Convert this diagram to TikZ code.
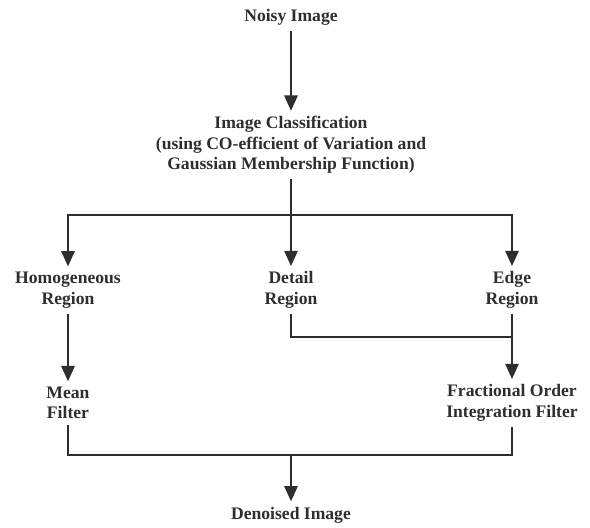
\documentclass[tikz,border=0pt]{standalone}
\usepackage{fontspec}
\setmainfont{Liberation Serif}
\usetikzlibrary{arrows.meta, positioning, calc}

\definecolor{inkgray}{HTML}{2E2E2E}

\begin{document}
\begin{tikzpicture}[>={Triangle[width=10pt,length=11.5pt]}, node distance=1cm, on grid,
    every node/.style={font=\bfseries\fontsize{13.2}{15.4}\selectfont, text=inkgray, align=center, inner sep=4pt},
    flow/.style={draw=inkgray, line width=1.5pt}]
    \useasboundingbox (-218.25pt,12.75pt) rectangle (224.25pt,-383.25pt);

    % Define the nodes
    \node (noisy) at (0,0) {Noisy Image};
    \node (cls) [below=96pt of noisy] {Image Classification\\(using CO-efficient of Variation and\\Gaussian Membership Function)};
    \node (det) [below=108.75pt of cls] {Detail\\Region};
    \node (hom) [left=167.25pt of det] {Homogeneous\\Region};
    \node (edge) [right=165.75pt of det] {Edge\\Region};
    \node (mean) [below=84.75pt of hom] {Mean\\Filter};
    \node (frac) [below=84.75pt of edge] {Fractional Order\\Integration Filter};
    \node (den) [below=168.75pt of det] {Denoised Image};

    % Junction points
    \coordinate[below=52.5pt of cls] (split);
    \coordinate[below=35.25pt of det] (join);
    \coordinate[above=45pt of den] (merge);

    % Draw the edges
    \draw[flow, ->] (noisy) -- (cls);
    \draw[flow] (cls.south) -- (split);
    \draw[flow, ->] (split) -- (det);
    \draw[flow, ->] (split) -| (hom);
    \draw[flow, ->] (split) -| (edge);
    \draw[flow, ->] (hom) -- (mean);
    \draw[flow, ->] (edge) -- (frac);
    \draw[flow] (det) -- (join) -- (join -| edge);
    \draw[flow] (mean) |- (merge);
    \draw[flow] (frac) |- (merge);
    \draw[flow, ->] (merge) -- (den);
\end{tikzpicture}
\end{document}
